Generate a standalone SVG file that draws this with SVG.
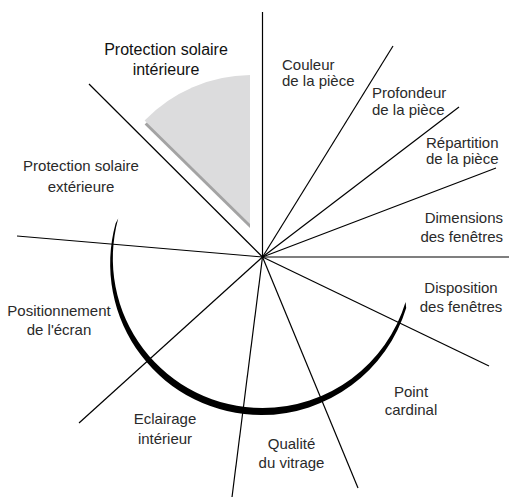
<svg xmlns="http://www.w3.org/2000/svg" width="509" height="502" viewBox="0 0 509 502">
<style>
.ln{stroke:#000;stroke-width:1.2;fill:none;stroke-linecap:butt}
.t{font-family:"Liberation Sans",Arial,sans-serif;font-size:15px;fill:#2a2a2a}
.h{font-family:"Liberation Sans",Arial,sans-serif;font-size:16px;fill:#111}
.m{text-anchor:middle}
.e{text-anchor:end}
</style>
<rect width="509" height="502" fill="#fff"/>
<g id="wedge">
<path d="M250 228 L250 79 A149 149 0 0 0 144.6 124.4 Z" fill="#a3a3a3"/>
<path d="M250 224 L250 75 A149 149 0 0 0 144.6 120.4 Z" fill="#dcdcdd"/>
</g>
<g id="connectors">
<line class="ln" x1="262.5" y1="257" x2="262.5" y2="12"/>
<line class="ln" x1="262.5" y1="257" x2="393" y2="46"/>
<line class="ln" x1="262.5" y1="257" x2="459" y2="107"/>
<line class="ln" x1="262.5" y1="257" x2="496" y2="168"/>
<line class="ln" x1="262.5" y1="257" x2="509" y2="257"/>
<line class="ln" x1="262.5" y1="257" x2="489" y2="366"/>
<line class="ln" x1="262.5" y1="257" x2="358" y2="488"/>
<line class="ln" x1="262.5" y1="257" x2="232" y2="497"/>
<line class="ln" x1="262.5" y1="257" x2="79" y2="423"/>
<line class="ln" x1="262.5" y1="257" x2="17" y2="236"/>
<line class="ln" x1="262.5" y1="257" x2="89" y2="84"/>
</g>
<g id="arc">
<path d="M115.6 223.4 A151.35 151.35 0 0 0 261.5 415 A151.35 151.35 0 0 0 406.2 307.9 L405.6 302.1 A149.65 149.65 0 0 1 262.5 408 A149.65 149.65 0 0 1 118.2 218.6 Z" fill="#000"/>
</g>
<g id="protection-interieure">
<text class="h m" x="166" y="55">Protection solaire</text>
<text class="h m" x="166" y="75">intérieure</text>
</g>
<g id="couleur">
<text class="t" x="282" y="70">Couleur</text>
<text class="t" x="282" y="86">de la pièce</text>
</g>
<g id="profondeur">
<text class="t" x="372" y="98">Profondeur</text>
<text class="t" x="372" y="115">de la pièce</text>
</g>
<g id="repartition">
<text class="t" x="426" y="148">Répartition</text>
<text class="t" x="426" y="164">de la pièce</text>
</g>
<g id="dimensions">
<text class="t e" x="503" y="223">Dimensions</text>
<text class="t e" x="503" y="242">des fenêtres</text>
</g>
<g id="disposition">
<text class="t m" x="461" y="293">Disposition</text>
<text class="t m" x="461" y="312">des fenêtres</text>
</g>
<g id="point-cardinal">
<text class="t m" x="411" y="397">Point</text>
<text class="t m" x="411" y="415">cardinal</text>
</g>
<g id="qualite">
<text class="t m" x="291.5" y="449">Qualité</text>
<text class="t m" x="291.5" y="468">du vitrage</text>
</g>
<g id="eclairage">
<text class="t m" x="165" y="424">Eclairage</text>
<text class="t m" x="165" y="444">intérieur</text>
</g>
<g id="positionnement">
<text class="t m" x="59" y="316">Positionnement</text>
<text class="t m" x="59" y="335">de l'écran</text>
</g>
<g id="protection-exterieure">
<text class="t m" x="81" y="171">Protection solaire</text>
<text class="t m" x="81" y="192">extérieure</text>
</g>
</svg>
